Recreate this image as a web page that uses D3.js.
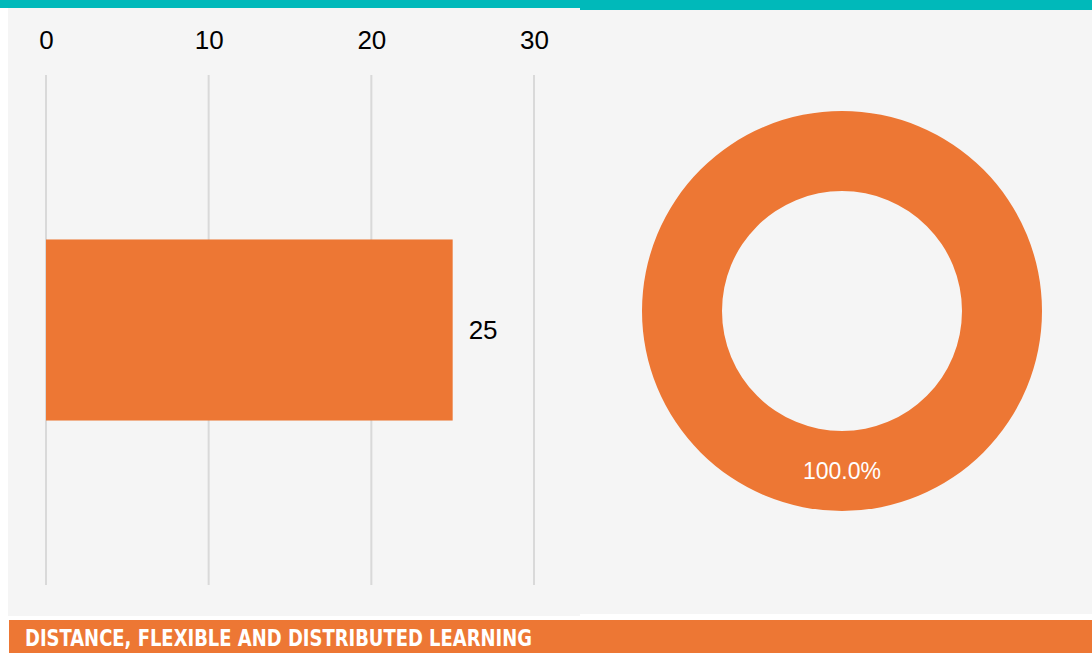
<!DOCTYPE html>
<html>
<head>
    <script src="https://d3js.org/d3.v7.min.js"></script>
    <style>
        body { margin: 0; background: #ffffff; }
        svg { display: block; }
    </style>
</head>
<body>
    <svg id="chart"></svg>
    <script>
        // data
        const categories = ["Distance, flexible and distributed learning"];
        const barValues = [25];
        const xTicks = [0, 10, 20, 30];
        const pieLabels = ["Yes"];
        const pieValues = [25];
        const bannerTitle = "DISTANCE, FLEXIBLE AND DISTRIBUTED LEARNING";

        const svgWidth = 1092;
        const svgHeight = 653;
        const teal = "#00B9BA";
        const orange = "#ED7734";
        const panelBg = "#F5F5F5";

        const svg = d3.select("#chart")
            .attr("width", svgWidth)
            .attr("height", svgHeight);

        // panels
        svg.append("rect").attr("x", 8).attr("y", 8).attr("width", 572).attr("height", 608).attr("fill", panelBg);
        svg.append("rect").attr("x", 580).attr("y", 10).attr("width", 512).attr("height", 604).attr("fill", panelBg);
        svg.append("rect").attr("x", 0).attr("y", 0).attr("width", 580).attr("height", 8).attr("fill", teal);
        svg.append("rect").attr("x", 580).attr("y", 0).attr("width", 512).attr("height", 10).attr("fill", teal);

        // bar chart
        const xScale = d3.scaleLinear()
            .domain([0, 30])
            .range([46, 534]);

        const yScale = d3.scaleBand()
            .domain(categories)
            .range([75, 585])
            .padding(0.476);

        const bar = svg.append("g");

        bar.selectAll(".grid")
            .data(xTicks)
            .join("line")
            .attr("x1", d => xScale(d))
            .attr("x2", d => xScale(d))
            .attr("y1", 75)
            .attr("y2", 585)
            .attr("stroke", "#D9D9D9")
            .attr("stroke-width", 2);

        const xAxis = bar.append("g")
            .attr("transform", "translate(0, 49)")
            .call(d3.axisTop(xScale).tickValues(xTicks).tickSize(0).tickPadding(0));
        xAxis.select(".domain").remove();
        xAxis.selectAll("text")
            .attr("fill", "#000")
            .style("font-family", "'Liberation Sans', Arial, sans-serif")
            .style("font-size", "26px");

        bar.selectAll(".bar")
            .data(barValues)
            .join("rect")
            .attr("x", xScale(0))
            .attr("y", (d, i) => yScale(categories[i]))
            .attr("width", d => xScale(d) - xScale(0))
            .attr("height", yScale.bandwidth())
            .attr("fill", orange);

        bar.selectAll(".val")
            .data(barValues)
            .join("text")
            .attr("x", d => xScale(d) + 16)
            .attr("y", (d, i) => yScale(categories[i]) + yScale.bandwidth() / 2)
            .attr("dy", "0.35em")
            .style("font-family", "'Liberation Sans', Arial, sans-serif")
            .style("font-size", "26px")
            .attr("fill", "#000")
            .text(d => d);

        // donut
        const cx = 842, cy = 311;
        const pie = d3.pie().sort(null);
        const arc = d3.arc().innerRadius(120).outerRadius(200);
        const donut = svg.append("g").attr("transform", `translate(${cx}, ${cy})`);
        const arcs = pie(pieValues);
        const total = d3.sum(pieValues);

        donut.selectAll("path")
            .data(arcs)
            .join("path")
            .attr("d", arc)
            .attr("fill", orange);

        donut.selectAll("text")
            .data(arcs)
            .join("text")
            .attr("transform", d => `translate(${arc.centroid(d)})`)
            .attr("dy", "0.35em")
            .attr("text-anchor", "middle")
            .attr("fill", "#fff")
            .style("font-family", "'Liberation Sans', Arial, sans-serif")
            .style("font-size", "23px")
            .text(d => d3.format(".1%")(d.value / total));

        // banner
        svg.append("rect").attr("x", 9).attr("y", 620).attr("width", 1083).attr("height", 33).attr("fill", orange);
        svg.append("text")
            .attr("x", 25)
            .attr("y", 646)
            .attr("fill", "#fff")
            .attr("textLength", 507)
            .attr("lengthAdjust", "spacingAndGlyphs")
            .style("font-family", "'Liberation Sans Narrow', 'DejaVu Sans Condensed', sans-serif")
            .style("font-weight", "bold")
            .style("font-size", "23px")
            .text(bannerTitle);
    </script>
</body>
</html>
